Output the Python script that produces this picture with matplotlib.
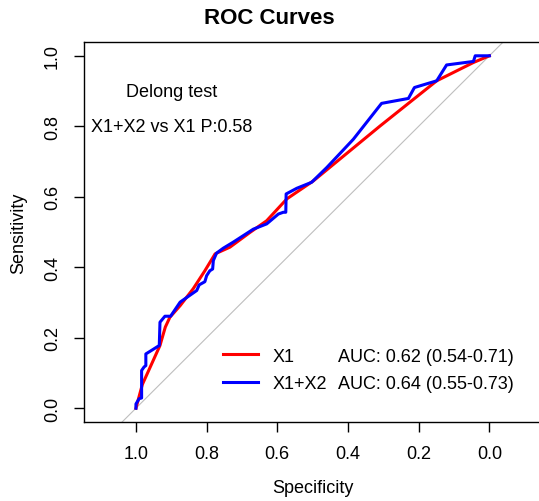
import matplotlib
matplotlib.use("Agg")
import matplotlib.pyplot as plt
from matplotlib.lines import Line2D

plt.rcParams['font.family'] = ['Liberation Sans', 'DejaVu Sans']

# ROC curve points (specificity, sensitivity)
x1_spec = [1.0, 0.982, 0.932, 0.917, 0.904, 0.875, 0.838, 0.805, 0.776, 0.734,
           0.677, 0.63, 0.573, 0.498, 0.309, 0.149, 0.045, 0.0]
x1_sens = [0.0, 0.067, 0.178, 0.23, 0.258, 0.291, 0.339, 0.39, 0.438, 0.457,
           0.499, 0.532, 0.594, 0.645, 0.801, 0.929, 0.981, 1.0]

x12_spec = [1.0, 1.0, 0.991, 0.984, 0.984, 0.977, 0.972, 0.972, 0.956, 0.934,
            0.932, 0.918, 0.902, 0.875, 0.828, 0.821, 0.805, 0.800, 0.791, 0.783,
            0.781, 0.772, 0.753, 0.725, 0.668, 0.63, 0.597, 0.583, 0.576, 0.575,
            0.545, 0.503, 0.46, 0.385, 0.305, 0.229, 0.212, 0.149, 0.121, 0.045,
            0.04, 0.0]
x12_sens = [0.0, 0.012, 0.027, 0.029, 0.107, 0.117, 0.121, 0.154, 0.164, 0.178,
            0.244, 0.261, 0.261, 0.301, 0.334, 0.35, 0.359, 0.376, 0.39, 0.395,
            0.419, 0.44, 0.454, 0.471, 0.508, 0.523, 0.551, 0.556, 0.556, 0.608,
            0.624, 0.641, 0.683, 0.763, 0.865, 0.879, 0.91, 0.929, 0.974, 0.984,
            1.0, 1.0]

labels = ["X1", "X1+X2"]
auc_text = ["AUC: 0.62 (0.54-0.71)", "AUC: 0.64 (0.55-0.73)"]
colors = ["#FF0000", "#0000FF"]
ticks = [0.0, 0.2, 0.4, 0.6, 0.8, 1.0]

fig = plt.figure(figsize=(5.39, 5.02), dpi=100)
ax = fig.add_axes([84 / 539, 78.7 / 502, 457.3 / 539, 380.6 / 502])

# chance line
ax.axline((1, 0), (0, 1), color="#BEBEBE", lw=0.8, zorder=1)

ax.plot(x1_spec, x1_sens, color=colors[0], lw=2.2, zorder=2)
ax.plot(x12_spec, x12_sens, color=colors[1], lw=2.2, zorder=3)

ax.set_xlim(1.147, -0.147)
ax.set_ylim(-0.04, 1.04)
ax.set_xticks(ticks)
ax.set_yticks(ticks)
ax.set_xticklabels(["%.1f" % t for t in ticks])
ax.set_yticklabels(["%.1f" % t for t in ticks], rotation=90, va="center")
ax.tick_params(direction="out", length=7.5, width=1, labelsize=13, pad=9)
for s in ax.spines.values():
    s.set_linewidth(1)

ax.set_xlabel("Specificity", fontsize=13, labelpad=12)
ax.set_ylabel("Sensitivity", fontsize=13, labelpad=12)
fig.text(0.5, 1 - 18 / 502, "ROC Curves", ha="center", va="center",
         fontsize=16, fontweight="bold")

ax.text(0.9, 0.9, "Delong test", ha="center", va="center", fontsize=13)
ax.text(0.9, 0.8, "X1+X2 vs X1 P:0.58", ha="center", va="center", fontsize=13)

handles = [Line2D([], [], color=c, lw=2.2) for c in colors]
ax.legend(handles, labels, loc="upper left", bbox_to_anchor=(0.304, 0.196),
          frameon=False, fontsize=13, handlelength=1.94, handletextpad=0.82,
          labelspacing=0.575, borderpad=0, borderaxespad=0)
ax.text(0.429, 0.146, auc_text[0], ha="left", va="center", fontsize=13)
ax.text(0.429, 0.070, auc_text[1], ha="left", va="center", fontsize=13)

fig.savefig("out.png", dpi=100)
